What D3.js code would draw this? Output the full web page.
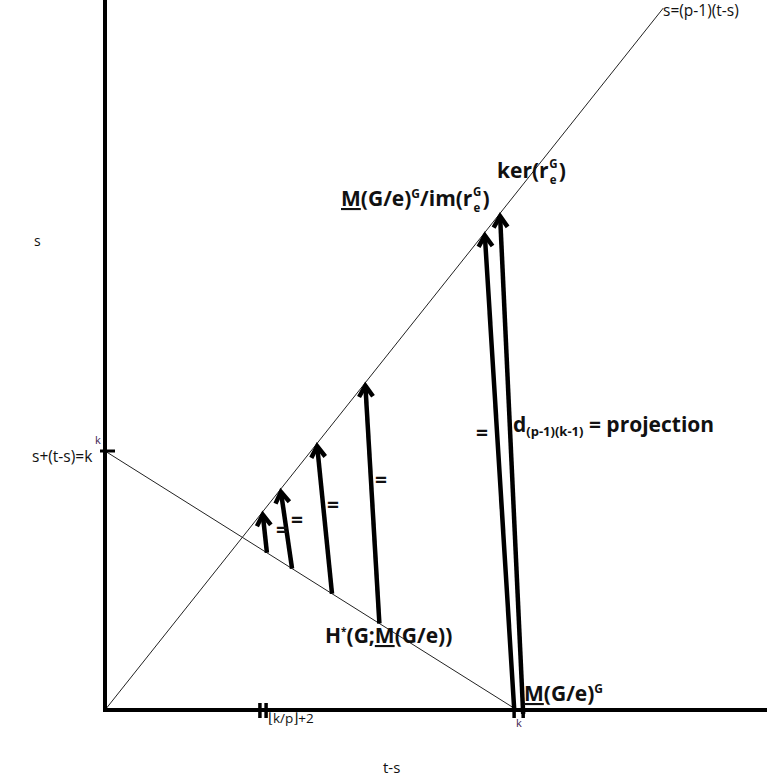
<!DOCTYPE html>
<html>
<head>
<meta charset="utf-8">
<script src="https://cdn.jsdelivr.net/npm/d3@7"></script>
<style>
  body { margin: 0; background: #fff; }
  svg { display: block; }
  text { font-family: "Open Sans", "Noto Sans", sans-serif; fill: #111; }
  .bold { font-weight: bold; }
</style>
</head>
<body>
<svg id="chart" width="767" height="778"></svg>
<script>
// values in chart units: x = t-s, y = s
const K = 10;
const P1 = 2;                       // slope p-1 of the diagonal
const diagEnd = 13.55;              // where the diagonal stops (t-s)
const floorTicks = [3.76, 3.91];    // double tick at floor(k/p)+2
const kTicks = [9.93, 10.15];       // double tick at k
// arrows: start on s+(t-s)=k, end on s=(p-1)(t-s)
const arrowFrom = [3.93, 4.54, 5.51, 6.66, 9.93, 10.15];
const arrowTo   = [3.83, 4.27, 5.15, 6.32, 9.22, 9.59];
const eqMarks = [[276, 537], [291, 527], [327, 512], [375, 487], [476, 440]];

const svg = d3.select("#chart");
const x = d3.scaleLinear().domain([0, K]).range([105, 517]);
const y = d3.scaleLinear().domain([0, K]).range([710, 451]);

const g = svg.append("g");

// thin lines
g.append("line")
    .attr("x1", x(0)).attr("y1", y(0))
    .attr("x2", x(diagEnd)).attr("y2", y(P1 * diagEnd))
    .attr("stroke", "#222").attr("stroke-width", 1);
g.append("line")
    .attr("x1", x(0)).attr("y1", y(K))
    .attr("x2", x(K + 0.05)).attr("y2", y(-0.05))
    .attr("stroke", "#222").attr("stroke-width", 1);

// axes
g.append("line")
    .attr("x1", x(0)).attr("y1", 0).attr("x2", x(0)).attr("y2", y(0) + 2)
    .attr("stroke", "#000").attr("stroke-width", 4);
g.append("line")
    .attr("x1", x(0) - 2).attr("y1", y(0)).attr("x2", 767).attr("y2", y(0))
    .attr("stroke", "#000").attr("stroke-width", 4);

// ticks
g.append("line")
    .attr("x1", x(0) - 5).attr("x2", x(0) + 10)
    .attr("y1", y(K)).attr("y2", y(K))
    .attr("stroke", "#000").attr("stroke-width", 3);
g.selectAll(".ftick").data(floorTicks).join("line")
    .attr("x1", d => x(d)).attr("x2", d => x(d))
    .attr("y1", y(0) - 7).attr("y2", y(0) + 8)
    .attr("stroke", "#000").attr("stroke-width", 3.5);
g.selectAll(".ktick").data(kTicks).join("line")
    .attr("x1", d => x(d)).attr("x2", d => x(d))
    .attr("y1", y(0) - 4).attr("y2", y(0) + 8)
    .attr("stroke", "#000").attr("stroke-width", 3.5);

// arrows
const arrows = arrowFrom.map((a, i) => ({
    x0: x(a), y0: y(K - a),
    x1: x(arrowTo[i]), y1: y(P1 * arrowTo[i])
}));
const ag = g.selectAll(".arrow").data(arrows).join("g");
ag.append("line")
    .attr("x1", d => d.x0).attr("y1", d => d.y0)
    .attr("x2", d => d.x1).attr("y2", d => d.y1 + 3)
    .attr("stroke", "#000").attr("stroke-width", 4.5);
ag.append("path")
    .attr("transform", d => {
        const ang = Math.atan2(d.y1 - d.y0, d.x1 - d.x0) * 180 / Math.PI + 90;
        return `translate(${d.x1},${d.y1 + 3}) rotate(${ang})`;
    })
    .attr("d", "M-7,11 L0,0 L7,11")
    .attr("fill", "none").attr("stroke", "#000")
    .attr("stroke-width", 4.5).attr("stroke-linejoin", "miter");

// "=" marks
g.selectAll(".eq").data(eqMarks).join("text")
    .attr("class", "bold")
    .attr("x", d => d[0]).attr("y", d => d[1])
    .style("font-size", "21px")
    .text("=");

// plain labels
g.append("text").attr("x", 34).attr("y", 246).style("font-size", "14px").text("s");
g.append("text").attr("x", 383).attr("y", 773).style("font-size", "15px").text("t-s");
g.append("text").attr("x", 32).attr("y", 462).style("font-size", "15.5px").text("s+(t-s)=k");
g.append("text").attr("x", 95).attr("y", 444).style("font-size", "11px").style("fill", "#402050").text("k");
g.append("text").attr("x", 516).attr("y", 727).style("font-size", "11px").style("fill", "#402050").text("k");
g.append("text").attr("x", 268).attr("y", 723).style("font-size", "13.5px").text("\u230Ak/p\u230B+2");
g.append("text").attr("x", 663).attr("y", 16).style("font-size", "15.5px").text("s=(p-1)(t-s)");

// bold label: head text, stacked G over e, then ")"
function rLabel(px, py, head) {
    const t = g.append("text").attr("class", "bold").attr("x", px).attr("y", py)
        .style("font-size", "21px");
    head(t);
    const w = t.node().getComputedTextLength();
    g.append("text").attr("class", "bold").attr("x", px + w + 0.5).attr("y", py - 10)
        .style("font-size", "11.5px").text("G");
    g.append("text").attr("class", "bold").attr("x", px + w + 1).attr("y", py + 6)
        .style("font-size", "11.5px").text("e");
    g.append("text").attr("class", "bold").attr("x", px + w + 10).attr("y", py)
        .style("font-size", "21px").text(")");
}

rLabel(497, 178, t => t.append("tspan").text("ker(r"));
rLabel(341, 206, t => {
    t.append("tspan").style("text-decoration", "underline").text("M");
    t.append("tspan").text("(G/e)");
    t.append("tspan").attr("dy", -8).style("font-size", "12px").text("G");
    t.append("tspan").attr("dy", 8).text("/im(r");
});

const proj = g.append("text").attr("class", "bold").attr("x", 513).attr("y", 432).style("font-size", "21px");
proj.append("tspan").text("d");
proj.append("tspan").attr("dy", 4).style("font-size", "13px").text("(p-1)(k-1)");
proj.append("tspan").attr("dy", -4).text(" = projection");

const coh = g.append("text").attr("class", "bold").attr("x", 325).attr("y", 643).style("font-size", "21px");
coh.append("tspan").text("H");
coh.append("tspan").attr("dy", -8).style("font-size", "10px").text("*");
coh.append("tspan").attr("dy", 8).text("(G;");
coh.append("tspan").style("text-decoration", "underline").text("M");
coh.append("tspan").text("(G/e))");

const fix = g.append("text").attr("class", "bold").attr("x", 524).attr("y", 701).style("font-size", "21px");
fix.append("tspan").style("text-decoration", "underline").text("M");
fix.append("tspan").text("(G/e)");
fix.append("tspan").attr("dy", -8).style("font-size", "12px").text("G");
</script>
</body>
</html>
